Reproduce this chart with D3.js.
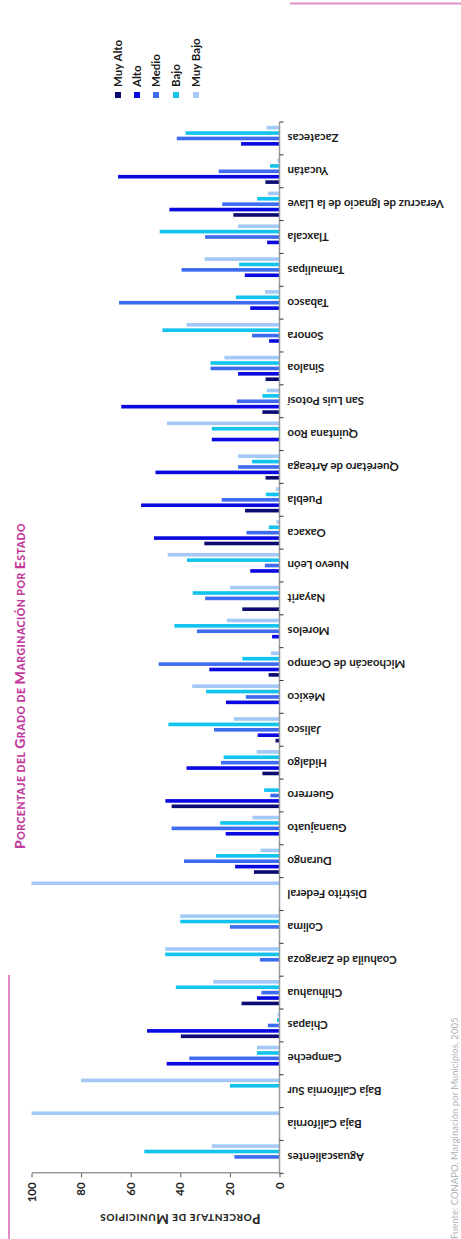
<!DOCTYPE html>
<html>
<head>
<meta charset="utf-8">
<script src="https://cdn.jsdelivr.net/npm/d3@7"></script>
<style>
  html, body { margin: 0; padding: 0; background: #fff; }
  svg { display: block; }
  text { font-family: Lato, "Open Sans", sans-serif; }
</style>
</head>
<body>
<svg id="chart" width="461" height="1239"></svg>
<script>
// Estados (eje de categorías)
const states = [
  "Aguascalientes", "Baja California", "Baja California Sur", "Campeche", "Chiapas",
  "Chihuahua", "Coahuila de Zaragoza", "Colima", "Distrito Federal", "Durango",
  "Guanajuato", "Guerrero", "Hidalgo", "Jalisco", "México", "Michoacán de Ocampo",
  "Morelos", "Nayarit", "Nuevo León", "Oaxaca", "Puebla", "Querétaro de Arteaga",
  "Quintana Roo", "San Luis Potosí", "Sinaloa", "Sonora", "Tabasco", "Tamaulipas",
  "Tlaxcala", "Veracruz de Ignacio de la Llave", "Yucatán", "Zacatecas"
];

// Grados de marginación
const seriesNames = ["Muy Alto", "Alto", "Medio", "Bajo", "Muy Bajo"];

// Porcentaje de municipios por grado, en el orden de `states`
const muyAlto = [0, 0, 0, 0, 39.8, 15.3, 0, 0, 0, 10.3, 0, 43.5, 6.9, 1.6, 0, 4.4,
  0, 15, 0, 30.3, 13.9, 5.6, 0, 6.9, 5.6, 0, 0, 0, 0, 18.6, 5.7, 0];
const alto = [0, 0, 0, 45.5, 53.4, 9.1, 0, 0, 0, 17.9, 21.7, 46.0, 37.5, 8.8, 21.6, 28.3,
  3.0, 0, 11.8, 50.6, 55.8, 50, 27.3, 63.8, 16.7, 4.2, 11.8, 14.0, 5.0, 44.4, 65.1, 15.5];
const medio = [18.2, 0, 0, 36.4, 4.7, 7.3, 7.9, 20, 0, 38.5, 43.5, 3.7, 23.6, 26.4, 13.6, 48.7,
  33.3, 30, 5.9, 13.3, 23.3, 16.7, 0, 17.2, 27.8, 11.1, 64.7, 39.5, 30.0, 23.1, 24.5, 41.4];
const bajo = [54.5, 0, 20, 9.1, 1.0, 41.8, 46.1, 40, 0, 25.6, 23.9, 6.2, 22.5, 44.8, 29.6, 15.0,
  42.4, 35, 37.3, 4.3, 5.5, 11.1, 27.3, 6.9, 27.8, 47.2, 17.6, 16.3, 48.3, 9.0, 3.8, 37.9];
const muyBajo = [27.3, 100, 80, 9.1, 0.8, 26.7, 46.1, 40, 100, 7.7, 10.9, 0, 9.2, 18.4, 35.2, 3.5,
  21.2, 20, 45.1, 1.2, 1.4, 16.7, 45.4, 5.2, 22.2, 37.5, 5.9, 30.2, 16.7, 4.7, 0.9, 5.2];

// Marcas del eje de valores
const valueTicks = [0, 20, 40, 60, 80, 100];

const seriesValues = [muyAlto, alto, medio, bajo, muyBajo];
const colors = ["#0b0b72", "#0a0ae0", "#3d6cf0", "#12c3ee", "#a4c9f6"];

const svg = d3.select("#chart");

// La gráfica se construye en horizontal (1239 x 461) y se gira -90°
const W = 1239;
const g = svg.append("g").attr("transform", `translate(0,${W}) rotate(-90)`);

const x0 = d3.scaleBand().domain(states).range([65.7, 1117]).paddingInner(0).paddingOuter(0);
const x1 = d3.scaleBand().domain(seriesNames).range([2.9, 29.9]).paddingInner(0.33).paddingOuter(0.165);
const y = d3.scaleLinear().domain([0, 100]).range([279.5, 31.5]);
const color = d3.scaleOrdinal().domain(seriesNames).range(colors);

const rows = states.map((s, i) => ({
  state: s,
  values: seriesNames.map((k, j) => ({ key: k, value: seriesValues[j][i] }))
}));

// Barras
g.append("g")
  .selectAll("g")
  .data(rows)
  .join("g")
  .attr("transform", d => `translate(${x0(d.state)},0)`)
  .selectAll("rect")
  .data(d => d.values.filter(v => v.value > 0))
  .join("rect")
  .attr("x", d => x1(d.key))
  .attr("y", d => y(d.value))
  .attr("width", x1.bandwidth())
  .attr("height", d => y(0) - y(d.value))
  .attr("fill", d => color(d.key));

// Eje de valores
const yAxis = g.append("g")
  .attr("transform", `translate(${x0.range()[0]},0)`)
  .call(d3.axisLeft(y).tickValues(valueTicks).tickSize(4).tickSizeOuter(0).tickPadding(5));
yAxis.select(".domain").attr("stroke", "#9a9a9a").attr("stroke-width", 1.5);
yAxis.selectAll(".tick line").attr("stroke", "#555");
yAxis.selectAll(".tick text")
  .attr("font-size", 11.5).attr("font-weight", 700).attr("fill", "#222")
  .attr("font-family", "Lato, sans-serif");

// Eje de categorías
const xAxisG = g.append("g");
xAxisG.append("line")
  .attr("x1", x0.range()[0]).attr("x2", x0.range()[1])
  .attr("y1", y(0)).attr("y2", y(0))
  .attr("stroke", "#9a9a9a").attr("stroke-width", 1.5);
const bounds = d3.range(states.length + 1).map(i => x0.range()[0] + i * x0.step());
xAxisG.selectAll("line.tick")
  .data(bounds)
  .join("line")
  .attr("class", "tick")
  .attr("x1", d => d).attr("x2", d => d)
  .attr("y1", y(0)).attr("y2", y(0) + 4)
  .attr("stroke", "#333");
xAxisG.selectAll("text")
  .data(states)
  .join("text")
  .attr("transform", d => `translate(${x0(d) + x0.bandwidth() / 2},${y(0) + 8}) rotate(-90)`)
  .attr("text-anchor", "end")
  .attr("dy", "0.35em")
  .attr("font-size", 11.5)
  .attr("font-weight", 700)
  .attr("fill", "#1a1a1a")
  .text(d => d);

// Texto en versalitas: mayúsculas iniciales más grandes
function smallCaps(sel, words, big, small) {
  words.forEach((w, i) => {
    const first = w[0];
    const rest = w.slice(1).toUpperCase() + (i < words.length - 1 ? " " : "");
    const isCap = first === first.toUpperCase();
    sel.append("tspan").attr("font-size", isCap ? big : small).text(first.toUpperCase());
    if (rest) sel.append("tspan").attr("font-size", small).text(rest);
  });
}

// Título del eje de valores
const yTitle = g.append("text")
  .attr("transform", `translate(19,180) rotate(-90)`)
  .attr("text-anchor", "middle")
  .attr("dy", "0.35em")
  .attr("font-weight", 900)
  .attr("fill", "#2a2a2a")
  .attr("letter-spacing", 0.6);
smallCaps(yTitle, ["Porcentaje", "de", "Municipios"], 13, 10);

// Título principal
const title = g.append("text")
  .attr("x", 553)
  .attr("y", 25)
  .attr("text-anchor", "middle")
  .attr("font-weight", 900)
  .attr("fill", "#c23a9c")
  .attr("letter-spacing", 0.5);
smallCaps(title, ["Porcentaje", "del", "Grado", "de", "Marginación", "por", "Estado"], 14, 10.5);

// Leyenda
const legend = g.append("g").attr("transform", "translate(1141,0)");
const legendY = [118, 137, 156, 176, 196];
const items = legend.selectAll("g")
  .data(seriesNames)
  .join("g")
  .attr("transform", (d, i) => `translate(0,${legendY[i]})`);
items.append("rect")
  .attr("x", 0).attr("y", -3).attr("width", 6).attr("height", 6)
  .attr("fill", d => color(d));
items.append("text")
  .attr("x", 11)
  .attr("dy", "0.35em")
  .attr("font-size", 11.5)
  .attr("font-weight", 700)
  .attr("fill", "#1a1a1a")
  .text(d => d);

// Fuente
g.append("text")
  .attr("x", 0)
  .attr("y", 458)
  .attr("font-size", 9.5)
  .attr("fill", "#b3b3b3")
  .text("Fuente: CONAPO, Marginación por Municipios, 2005");

// Filetes decorativos de la página
g.append("line")
  .attr("x1", 0).attr("x2", 264).attr("y1", 9).attr("y2", 9)
  .attr("stroke", "#e48cc9").attr("stroke-width", 2);
g.append("line")
  .attr("x1", W - 3.5).attr("x2", W - 3.5).attr("y1", 290).attr("y2", 461)
  .attr("stroke", "#e48cc9").attr("stroke-width", 2);
</script>
</body>
</html>
